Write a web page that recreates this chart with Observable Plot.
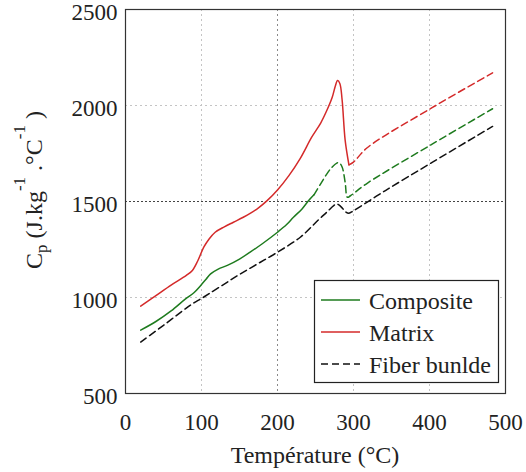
<!DOCTYPE html>
<html>
<head>
<meta charset="utf-8">
<script src="https://cdn.jsdelivr.net/npm/d3@7"></script>
<script src="https://cdn.jsdelivr.net/npm/@observablehq/plot@0.6"></script>
<style>
  body { margin: 0; background: #fff; }
  #chart svg { display: block; }
  #chart svg, #chart svg text, #chart svg tspan {
    font-family: "Liberation Serif", "Times New Roman", "DejaVu Serif", serif !important;
  }
</style>
</head>
<body>
<div id="chart"></div>
<script>
// Specific heat capacity vs temperature (°C -> J.kg-1.°C-1)

const xTicks = [0, 100, 200, 300, 400, 500];
const yTicks = [500, 1000, 1500, 2000, 2500];
const xGrid = [100, 200, 300, 400];
const yGrid = [1000, 1500, 2000];

// Matrix: measured part (solid) then extrapolated part (dashed)
const matrixSolidT  = [20, 40, 60, 80, 88, 95, 103, 110, 118, 130, 142, 155, 164, 175, 186, 200, 215, 230, 245, 257, 265, 272, 276, 279, 282, 285, 289, 294];
const matrixSolidCp = [955, 1010, 1065, 1115, 1141, 1190, 1262, 1305, 1340, 1368, 1392, 1418, 1438, 1467, 1503, 1560, 1635, 1725, 1835, 1910, 1975, 2043, 2100, 2130, 2115, 2030, 1820, 1691];
const matrixDashT   = [294, 300, 318, 404, 483];
const matrixDashCp  = [1691, 1705, 1780, 1990, 2170];

// Composite
const compSolidT  = [20, 40, 60, 79, 90, 99, 106, 112, 122, 134, 150, 164, 180, 200, 212, 221, 232, 241, 248];
const compSolidCp = [830, 875, 930, 993, 1025, 1063, 1095, 1123, 1148, 1167, 1200, 1236, 1280, 1340, 1380, 1418, 1460, 1505, 1535];
const compDashT   = [248, 258, 265, 272, 278, 281, 285, 289, 292, 296, 318, 404, 483];
const compDashCp  = [1535, 1600, 1644, 1680, 1700, 1702, 1680, 1600, 1522, 1530, 1595, 1800, 1983];

// Fiber bundle (dashed throughout)
const fiberT  = [20, 50, 80, 90, 100, 110, 130, 150, 175, 200, 230, 254, 265, 274, 278, 283, 290, 294, 300, 342, 404, 483];
const fiberCp = [768, 855, 945, 972, 995, 1020, 1070, 1120, 1178, 1236, 1314, 1405, 1445, 1479, 1487, 1475, 1445, 1439, 1452, 1557, 1705, 1891];

const seriesNames = ["Composite", "Matrix", "Fiber bunlde"];
const seriesColors = ["#1e7b1e", "#d42a2a", "#111111"];

function rows(name, part, ts, cps) {
  return ts.map((t, i) => ({ name, part, seg: name + "-" + part, t, cp: cps[i] }));
}

const solid = [
  ...rows("Composite", "solid", compSolidT, compSolidCp),
  ...rows("Matrix", "solid", matrixSolidT, matrixSolidCp)
];
const dashed = [
  ...rows("Composite", "dash", compDashT, compDashCp),
  ...rows("Matrix", "dash", matrixDashT, matrixDashCp),
  ...rows("Fiber bunlde", "dash", fiberT, fiberCp)
];

const chart = Plot.plot({
  width: 526,
  height: 472,
  marginLeft: 125,
  marginRight: 21,
  marginTop: 9,
  marginBottom: 79,
  style: { fontSize: "23px", color: "#222", background: "#fff" },
  x: { domain: [0, 500] },
  y: { domain: [500, 2500] },
  color: { domain: seriesNames, range: seriesColors },
  marks: [
    Plot.ruleX(xGrid.filter(d => d !== 200), { stroke: "#c4c4c4", strokeDasharray: "2,3" }),
    Plot.ruleX([200], { stroke: "#8a8a8a", strokeDasharray: "2,3" }),
    Plot.ruleY(yGrid.filter(d => d !== 1500), { stroke: "#c4c4c4", strokeDasharray: "2,3" }),
    Plot.ruleY([1500], { stroke: "#444", strokeDasharray: "2,2" }),
    Plot.axisX(xTicks, { tickFormat: d => String(d), tickSize: 0, tickPadding: 20, label: null }),
    Plot.axisY(yTicks, { tickFormat: d => String(d), tickSize: 0, tickPadding: 8, dy: 3, label: null }),
    Plot.line(solid, { x: "t", y: "cp", z: "seg", stroke: "name", strokeWidth: 1.5, curve: "catmull-rom" }),
    Plot.line(dashed, { x: "t", y: "cp", z: "seg", stroke: "name", strokeWidth: 1.5, strokeDasharray: "7,4", curve: "catmull-rom" }),
    Plot.frame({ stroke: "#333", strokeWidth: 1.2 })
  ]
});

document.getElementById("chart").appendChild(chart);

const svg = d3.select(chart);

// x-axis title
svg.append("text")
  .attr("x", 315).attr("y", 463)
  .attr("text-anchor", "middle")
  .attr("font-size", 24).attr("fill", "#222")
  .text("Température (°C)");

// y-axis title with sub/superscripts
const yl = svg.append("text")
  .attr("transform", "translate(42,190) rotate(-90)")
  .attr("text-anchor", "middle")
  .attr("font-size", 24).attr("fill", "#222");
yl.append("tspan").text("C");
yl.append("tspan").attr("font-size", 17).attr("dy", 5).text("p");
yl.append("tspan").attr("dy", -5).text(" (J.kg");
yl.append("tspan").attr("font-size", 17).attr("dy", -17).text("-1");
yl.append("tspan").attr("dy", 17).text(" .°C");
yl.append("tspan").attr("font-size", 17).attr("dy", -17).text("-1");
yl.append("tspan").attr("dy", 17).text(" )");

// legend
const lg = svg.append("g").attr("font-size", 24).attr("fill", "#222").attr("text-anchor", "start");
lg.append("rect")
  .attr("x", 314.5).attr("y", 280.5).attr("width", 184).attr("height", 102)
  .attr("fill", "#fff").attr("stroke", "#222").attr("stroke-width", 1.2);
const legendRows = [
  { name: "Composite", color: seriesColors[0], dash: null },
  { name: "Matrix", color: seriesColors[1], dash: null },
  { name: "Fiber bunlde", color: seriesColors[2], dash: "7,4" }
];
legendRows.forEach((r, i) => {
  const y = 300 + i * 32;
  lg.append("line")
    .attr("x1", 321).attr("x2", 360).attr("y1", y).attr("y2", y)
    .attr("stroke", r.color).attr("stroke-width", 1.5)
    .attr("stroke-dasharray", r.dash);
  lg.append("text").attr("x", 369).attr("y", y + 9).text(r.name);
});
</script>
</body>
</html>
